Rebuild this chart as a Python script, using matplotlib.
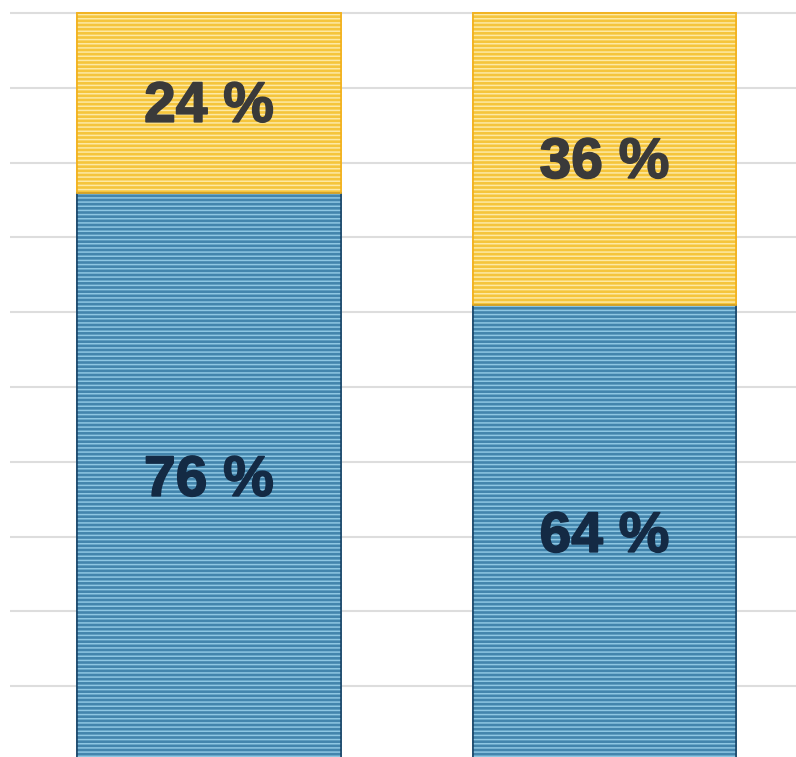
import matplotlib
matplotlib.use('Agg')
import matplotlib.pyplot as plt
import matplotlib.patheffects as pe
import matplotlib.transforms as mtransforms

plt.rcParams['font.family'] = ['Liberation Sans', 'DejaVu Sans']
plt.rcParams['hatch.linewidth'] = 1.1

# 데이터 (막대 높이는 그림에서 읽은 값)
categories = ['A', 'B']
blue_vals = [76, 61]
yellow_vals = [24, 39]
blue_labels = ['76 %', '64 %']
yellow_labels = ['24 %', '36 %']

fig = plt.figure(figsize=(7.96, 7.57), dpi=100)
ax = fig.add_axes([10 / 796, 0, 786 / 796, 1])

x = range(len(categories))
w = 0.6675

# 바탕색
ax.bar(x, blue_vals, width=w, color='#4385ad', edgecolor='#1f4d70', linewidth=1.2, zorder=2)
ax.bar(x, yellow_vals, width=w, bottom=blue_vals, color='#f5c53c', edgecolor='#f2b21f', linewidth=1.2, zorder=2)

# 줄무늬 (가로 해치)
ax.bar(x, blue_vals, width=w, color='none', edgecolor='#8ec7e3', linewidth=0, hatch='----', zorder=3)
ax.bar(x, yellow_vals, width=w, bottom=blue_vals, color='none', edgecolor='#fde9a4', linewidth=0, hatch='----', zorder=3)

# 테두리 다시
ax.bar(x, blue_vals, width=w, color='none', edgecolor='#1f4d70', linewidth=1.2, zorder=4)
ax.bar(x, yellow_vals, width=w, bottom=blue_vals, color='none', edgecolor='#f2b21f', linewidth=1.2, zorder=4)

# 글자를 약간 아래로
shift = ax.transData + mtransforms.ScaledTranslation(0, -4 / 100, fig.dpi_scale_trans)

for i in x:
    t1 = ax.text(i, blue_vals[i] / 2, blue_labels[i], ha='center', va='center',
                 fontsize=41, fontweight='bold', color='#142a44', zorder=5, transform=shift)
    t2 = ax.text(i, blue_vals[i] + yellow_vals[i] / 2, yellow_labels[i], ha='center', va='center',
                 fontsize=41, fontweight='bold', color='#3a3a3a', zorder=5, transform=shift)
    t1.set_path_effects([pe.withStroke(linewidth=1.2, foreground='#142a44')])
    t2.set_path_effects([pe.withStroke(linewidth=1.2, foreground='#3a3a3a')])

ax.set_xlim(-0.5032, 1.4842)
ax.set_ylim(0.53, 101.74)
ax.set_yticks(range(10, 101, 10))
ax.set_xticks([])
ax.yaxis.grid(True, color='#dddddd', linewidth=1.5, zorder=0)
ax.set_axisbelow(True)
ax.tick_params(left=False, bottom=False, labelleft=False, labelbottom=False)
for s in ax.spines.values():
    s.set_visible(False)

fig.savefig('out.png', dpi=100)
